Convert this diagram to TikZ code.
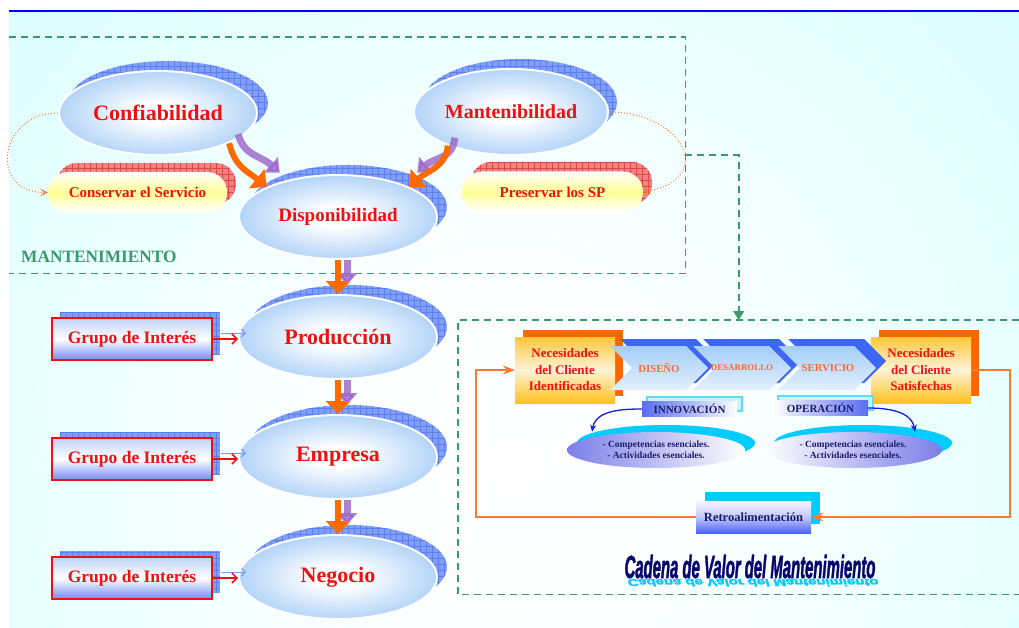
\documentclass[tikz,border=0pt]{standalone}
\usepackage{fontspec}
\usepackage{graphicx}
\setmainfont{Liberation Serif}
\newfontfamily\wordartfont[BoldItalicFeatures={FakeBold=2.2}]{Liberation Sans}
\usetikzlibrary{shapes.geometric,arrows.meta,calc}

\definecolor{bgcyan}{HTML}{C6FEFE}
\definecolor{ballblue}{HTML}{8FC0F5}
\definecolor{shblue}{HTML}{809FF8}
\definecolor{shgrid}{HTML}{5E7EF0}
\definecolor{shred}{HTML}{F08484}
\definecolor{shredgrid}{HTML}{E04848}
\definecolor{txtred}{HTML}{F01010}
\definecolor{dashgreen}{HTML}{3A9A6C}
\definecolor{orangeA}{HTML}{FF6A00}
\definecolor{purpleA}{HTML}{9A62C8}
\definecolor{loopor}{HTML}{FF7A30}
\definecolor{navy}{HTML}{1C1C6A}
\definecolor{cyanA}{HTML}{00CCFF}
\definecolor{chevsh}{HTML}{3D66F2}
\definecolor{chevtop}{HTML}{A4CEF8}
\definecolor{chevbot}{HTML}{E2F0FF}
\definecolor{chevtext}{HTML}{FF6A33}
\definecolor{boxorange}{HTML}{FF6600}
\definecolor{gold}{HTML}{FFC83A}
\definecolor{goldb}{HTML}{FFC21E}
\definecolor{pale}{HTML}{FFF3D8}
\definecolor{pillyellow}{HTML}{FFFF96}
\definecolor{grpblue}{HTML}{6F8EF0}
\definecolor{grptop}{HTML}{BCD3F5}
\definecolor{barblue}{HTML}{5A6CF0}
\definecolor{barshade}{HTML}{C8F4FF}
\definecolor{barline}{HTML}{60DAFF}
\definecolor{lav}{HTML}{7C7EE9}
\definecolor{retblue}{HTML}{4A66F5}
\definecolor{rettop}{HTML}{F6F2FF}
\definecolor{wordnavy}{HTML}{06066E}
\definecolor{arrowblue}{HTML}{1A1AE0}
\definecolor{redline}{HTML}{EE1111}
\definecolor{ghostblue}{HTML}{7A9AF0}
\definecolor{topblue}{HTML}{0000FF}

% radial fills: glossy balls and the soft glow of the backdrop
\pgfdeclareradialshading{ballshade}{\pgfpointorigin}{color(0bp)=(white); color(6bp)=(white); color(34bp)=(ballblue); color(50bp)=(ballblue)}
\pgfdeclareradialshading{glow}{\pgfpointorigin}{color(0bp)=(white); color(5bp)=(white!94!bgcyan); color(25bp)=(bgcyan); color(50bp)=(bgcyan)}

% chevron outline, x0 = left end of the notched back
\newcommand{\chevpath}[1]{(#1,346) -- ++(76,0) -- ++(22,22) -- ++(-22,22) -- ++(-76,0) -- ++(22,-22) -- cycle}

\tikzset{
  checker/.style 2 args={fill=#1, path picture={\draw[#2, line width=0.45pt] (path picture bounding box.south west) grid[step=6pt] (path picture bounding box.north east);}},
  ball/.style={ellipse, shade, shading=ballshade, draw=white, line width=2pt, minimum width=198pt, minimum height=84pt, inner sep=0pt, text=txtred, font=\bfseries\fontsize{22}{26}\selectfont},
  pill/.style={rectangle, rounded corners=20pt, top color=white, bottom color=white, middle color=pillyellow, minimum width=179pt, minimum height=41pt, inner sep=0pt, text=txtred, font=\bfseries\fontsize{15}{18}\selectfont},
  grupo/.style={rectangle, draw=redline, line width=2pt, top color=grptop, bottom color=grpblue, middle color=white, minimum width=160pt, minimum height=42pt, inner sep=0pt, text=txtred, font=\bfseries\fontsize{17.5}{20}\selectfont},
  necbox/.style={rectangle, top color=gold, bottom color=goldb, middle color=pale, minimum width=100pt, minimum height=66pt, inner sep=0pt, align=center, text=txtred, font=\bfseries\fontsize{13}{16.5}\selectfont},
  chevbody/.style={top color=chevtop, bottom color=chevbot},
  chevlabel/.style={text=chevtext, inner sep=0pt, font=\bfseries\fontsize{10.7}{12}\selectfont},
  bar/.style={rectangle, minimum width=95pt, minimum height=15pt, inner sep=0pt, text=navy, font=\bfseries\fontsize{11}{12}\selectfont},
  barshadow/.style={fill=barshade, draw=barline, line width=1.2pt},
  lowell/.style={ellipse, minimum width=178pt, minimum height=36pt, inner sep=0pt, align=center, text=navy, font=\bfseries\fontsize{9.5}{11}\selectfont},
  retrobox/.style={rectangle, top color=rettop, bottom color=retblue, middle color=rettop!70!retblue, minimum width=115pt, minimum height=32pt, inner sep=0pt, text=navy, font=\bfseries\fontsize{12.5}{14}\selectfont},
  dashbox/.style={draw=dashgreen, line width=1.6pt, dash pattern=on 7pt off 5pt},
  dotloop/.style={draw=loopor, line width=1pt, dotted, -{Stealth[length=8pt,width=8pt,inset=4pt]}},
  fatorange/.style={draw=orangeA, line width=6pt, -{Triangle[length=13pt,width=24pt]}},
  fatpurple/.style={draw=purpleA, opacity=0.8, line width=7pt, -{Triangle[length=12pt,width=20pt]}},
  grparrow/.style={draw=redline, line width=1.5pt, -{Straight Barb[length=5pt,width=10pt]}},
  ghostarrow/.style={draw=ghostblue, line width=1pt, -{Straight Barb[length=4pt,width=8pt]}},
  bluearrow/.style={draw=arrowblue, line width=1.3pt, -{Stealth[length=7pt,width=6pt]}},
  feedback/.style={draw=loopor, line width=1.5pt, -{Stealth[length=12pt,width=9pt,inset=4pt]}},
  wordart/.style={anchor=base, inner sep=0pt, font=\wordartfont\bfseries\itshape\fontsize{32}{34}\selectfont},
}

\begin{document}
\begin{tikzpicture}[x=1pt,y=-1pt]
\useasboundingbox (0,0) rectangle (1019,628);

% backdrop
\fill[white] (0,0) rectangle (1019,628);
\begin{scope}
  \clip (9,12) rectangle (1019,628);
  \fill[bgcyan] (9,12) rectangle (1019,628);
  \shade[shading=glow] (510,465) circle[radius=1020pt];
\end{scope}
\draw[topblue, line width=2pt] (9,11.5) -- (1019,11.5);

% dashed frames
\node[minimum width=676pt, minimum height=236pt, inner sep=0pt, anchor=north west] (mantbox) at (9,37) {};
\node[minimum width=561pt, minimum height=274pt, inner sep=0pt, anchor=north west] (cadbox) at (458,320) {};
\draw[dashbox] (mantbox.north west) -- (mantbox.north east) -- (mantbox.south east) -- (mantbox.south west);
\draw[dashbox] (cadbox.north east) -- (cadbox.north west) -- (cadbox.south west) -- (cadbox.south east);
\draw[dashbox, -{Triangle[length=9pt,width=11pt]}] (mantbox.east) -| (cadbox.north);

\node[anchor=base west, inner sep=0pt, text=dashgreen, font=\bfseries\fontsize{17.3}{20}\selectfont] (lblmant) at (21,262) {MANTENIMIENTO};

% checkered shadows behind the balls and pills
\path[checker={shblue}{shgrid}] (168,103) ellipse [x radius=100, y radius=42];
\path[checker={shblue}{shgrid}] (520,102) ellipse [x radius=97, y radius=43];
\path[checker={shblue}{shgrid}] (348,207) ellipse [x radius=99, y radius=42];
\path[checker={shblue}{shgrid}] (348,327) ellipse [x radius=99, y radius=42];
\path[checker={shblue}{shgrid}] (348,447) ellipse [x radius=99, y radius=42];
\path[checker={shblue}{shgrid}] (348,567) ellipse [x radius=99, y radius=42];
\path[checker={shred}{shredgrid}, rounded corners=20pt] (57,163) rectangle (236,204);
\path[checker={shred}{shredgrid}, rounded corners=20pt] (471,162) rectangle (652,204);
\path[checker={shblue}{shgrid}] (60,312) rectangle (220,354);
\path[checker={shblue}{shgrid}] (60,432) rectangle (220,474);
\path[checker={shblue}{shgrid}] (60,551) rectangle (220,593);

% balls
\node[ball] (conf) at (158,113) {Confiabilidad};
\node[ball, minimum width=194pt, minimum height=86pt, font=\bfseries\fontsize{20}{24}\selectfont] (mant) at (511,112) {Mantenibilidad};
\node[ball, font=\bfseries\fontsize{19}{23}\selectfont] (disp) at (338,217) {Disponibilidad};
\node[ball] (prod) at (338,337) {Producción};
\node[ball] (emp) at (338,457) {Empresa};
\node[ball] (neg) at (338,577) {Negocio};

% pills
\node[pill] (cons) at (137.5,192.5) {Conservar el Servicio};
\node[pill, minimum width=181pt] (pres) at (552.5,192) {Preservar los SP};

\draw[dotloop] (conf.west) to[out=180,in=180,looseness=1.9] (cons.west);
\draw[dotloop] (mant.east) to[out=0,in=10,looseness=2.2] (pres.east);

% heavy arrows
\draw[fatpurple] ([xshift=9pt,yshift=9pt]conf.-23) .. controls +(6,22) and +(-20,-18) .. ([xshift=13pt,yshift=14pt]disp.157);
\draw[fatorange] (conf.-23) .. controls +(6,24) and +(-20,-16) .. (disp.157);
\draw[fatpurple] ([xshift=7pt,yshift=8pt]mant.-152) .. controls +(-2,22) and +(18,-16) .. ([xshift=8pt,yshift=14pt]disp.23);
\draw[fatorange] (mant.-152) .. controls +(-2,22) and +(18,-16) .. (disp.23);
\draw[fatpurple] ([xshift=9pt]disp.south) -- ([xshift=9pt,yshift=9pt]prod.north);
\draw[fatorange] (disp.south) -- (prod.north);
\draw[fatpurple] ([xshift=9pt]prod.south) -- ([xshift=9pt,yshift=9pt]emp.north);
\draw[fatorange] (prod.south) -- (emp.north);
\draw[fatpurple] ([xshift=9pt]emp.south) -- ([xshift=9pt,yshift=9pt]neg.north);
\draw[fatorange] (emp.south) -- (neg.north);

% interest groups
\node[grupo] (g1) at (132,339) {Grupo de Interés};
\node[grupo] (g2) at (132,459) {Grupo de Interés};
\node[grupo] (g3) at (132,578) {Grupo de Interés};
\foreach \g/\b in {g1/prod, g2/emp, g3/neg}{
  \draw[ghostarrow] ($(\g.east)+(8,-6)$) -- ($(\g.east -| \b.west)+(8,-6)$);
  \draw[grparrow] (\g.east) -- (\g.east -| \b.west);
}

% value chain
\fill[boxorange] (523,330) rectangle (623,396);
\fill[boxorange] (879,330) rectangle (979,396);
\node[necbox] (nci) at (565,370) {Necesidades\\del Cliente\\Identificadas};
\node[necbox] (ncs) at (921,370) {Necesidades\\del Cliente\\Satisfechas};

\fill[chevsh, shift={(10,-7)}] \chevpath{610};
\path[chevbody] \chevpath{610};
\fill[chevsh, shift={(10,-7)}] \chevpath{693};
\path[chevbody] \chevpath{693};
\fill[chevsh, shift={(10,-7)}] \chevpath{778};
\path[chevbody] \chevpath{778};
\node[chevlabel] (dis) at (659,368) {DISEÑO};
\node[chevlabel, font=\bfseries\fontsize{8.9}{10}\selectfont] (des) at (742,368) {DESARROLLO};
\node[chevlabel] (ser) at (828,368) {SERVICIO};

\path[barshadow] (647,397) rectangle (742,411);
\path[barshadow] (778,396) rectangle (873,410);
\node[bar, left color=barblue, right color=white] (inno) at (689.5,409) {INNOVACIÓN};
\node[bar, left color=white, right color=barblue] (oper) at (820.5,408) {OPERACIÓN};

\fill[cyanA] (666,443) ellipse [x radius=89, y radius=18];
\fill[cyanA] (863,443) ellipse [x radius=89, y radius=18];
\node[lowell, left color=lav, right color=white] (e1) at (656,450) {- Competencias esenciales.\\- Actividades esenciales.};
\node[lowell, left color=white, right color=lav] (e2) at (853,450) {- Competencias esenciales.\\- Actividades esenciales.};
\draw[bluearrow] (inno.west) to[out=180,in=80] ([xshift=-64pt]e1.north);
\draw[bluearrow] (oper.east) to[out=0,in=100] ([xshift=62pt]e2.north);

\fill[cyanA] (705,492) rectangle (820,524);
\node[retrobox] (retro) at (753.5,517) {Retroalimentación};
\draw[feedback] (ncs.east) -- ++(39,0) |- (retro.east);
\draw[feedback] (retro.west) -| ([xshift=-39pt]nci.west) -- (nci.west);

% word-art caption with its mirrored reflection
\node[wordart, text=cyanA] (titlerefl) at (753,579) {\scalebox{0.465}[-0.32]{Cadena de Valor del Mantenimiento}};
\node[wordart, text=wordnavy] (title) at (750,578) {\scalebox{0.465}[1]{Cadena de Valor del Mantenimiento}};
\end{tikzpicture}
\end{document}
